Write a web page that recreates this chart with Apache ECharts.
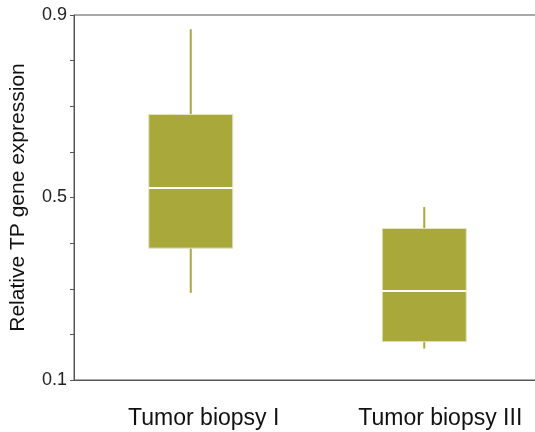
<!DOCTYPE html>
<html>
<head>
<meta charset="utf-8">
<script src="https://cdn.jsdelivr.net/npm/echarts@6/dist/echarts.min.js"></script>
<style>
  html, body { margin: 0; padding: 0; background: #fff; overflow: hidden; }
  #chart { width: 541px; height: 432px; }
</style>
</head>
<body>
<div id="chart"></div>
<script>
var categories = ['Tumor biopsy I', 'Tumor biopsy III'];
// low whisker, q1, median, q3, high whisker
var lowValues = [0.291, 0.169];
var q1Values = [0.389, 0.184];
var medianValues = [0.521, 0.295];
var q3Values = [0.682, 0.432];
var highValues = [0.869, 0.479];
var yTickLabels = ['0.1', '0.5', '0.9'];

var boxColor = '#a9a83b';

var rows = categories.map(function (c, i) {
    return [i, lowValues[i], q1Values[i], medianValues[i], q3Values[i], highValues[i]];
});

var myChart = echarts.init(document.getElementById('chart'));

function renderBox(params, api) {
    var x = api.value(0);
    var pLow = api.coord([x, api.value(1)]);
    var pQ1 = api.coord([x, api.value(2)]);
    var pMed = api.coord([x, api.value(3)]);
    var pQ3 = api.coord([x, api.value(4)]);
    var pHigh = api.coord([x, api.value(5)]);
    var halfW = 42;
    var cx = pQ1[0];
    return {
        type: 'group',
        children: [
            {
                type: 'line',
                shape: { x1: cx, y1: pHigh[1], x2: cx, y2: pQ3[1] },
                style: { stroke: boxColor, lineWidth: 2 }
            },
            {
                type: 'line',
                shape: { x1: cx, y1: pQ1[1], x2: cx, y2: pLow[1] },
                style: { stroke: boxColor, lineWidth: 2 }
            },
            {
                type: 'rect',
                shape: { x: cx - halfW, y: pQ3[1], width: halfW * 2, height: pQ1[1] - pQ3[1] },
                style: { fill: boxColor, stroke: '#e4e3c4', lineWidth: 1 }
            },
            {
                type: 'line',
                shape: { x1: cx - halfW, y1: pMed[1], x2: cx + halfW, y2: pMed[1] },
                style: { stroke: '#ffffff', lineWidth: 2 }
            }
        ]
    };
}

var option = {
    animation: false,
    backgroundColor: '#ffffff',
    grid: {
        left: 72,
        right: 0,
        top: 15,
        bottom: 52,
        show: true,
        borderColor: '#555555',
        borderWidth: 1
    },
    xAxis: {
        type: 'category',
        data: [
            { value: categories[0], textStyle: { padding: [0, 0, 0, 26] } },
            { value: categories[1], textStyle: { padding: [0, 0, 0, 32] } }
        ],
        axisLine: { lineStyle: { color: '#555555', width: 1 } },
        axisTick: { show: false },
        axisLabel: {
            margin: 27,
            fontSize: 23,
            color: '#111111',
            fontFamily: 'Liberation Sans, Arial, sans-serif'
        },
        splitLine: { show: false }
    },
    yAxis: {
        type: 'value',
        min: 0.1,
        max: 0.9,
        interval: 0.1,
        name: 'Relative TP gene expression',
        nameLocation: 'middle',
        nameGap: 45,
        nameTextStyle: {
            fontSize: 21,
            color: '#111111',
            fontFamily: 'Liberation Sans, Arial, sans-serif'
        },
        axisLine: { show: true, lineStyle: { color: '#555555', width: 1 } },
        axisTick: { show: true, length: 4, lineStyle: { color: '#555555' } },
        axisLabel: {
            margin: 7,
            fontSize: 18,
            color: '#222222',
            fontFamily: 'Liberation Sans, Arial, sans-serif',
            formatter: function (v) {
                var s = (Math.round(v * 10) / 10).toFixed(1);
                return yTickLabels.indexOf(s) >= 0 ? s : '';
            }
        },
        splitLine: { show: false }
    },
    series: [
        {
            type: 'custom',
            renderItem: renderBox,
            encode: { x: 0, y: [1, 2, 3, 4, 5] },
            data: rows
        }
    ]
};
myChart.setOption(option);
</script>
</body>
</html>
